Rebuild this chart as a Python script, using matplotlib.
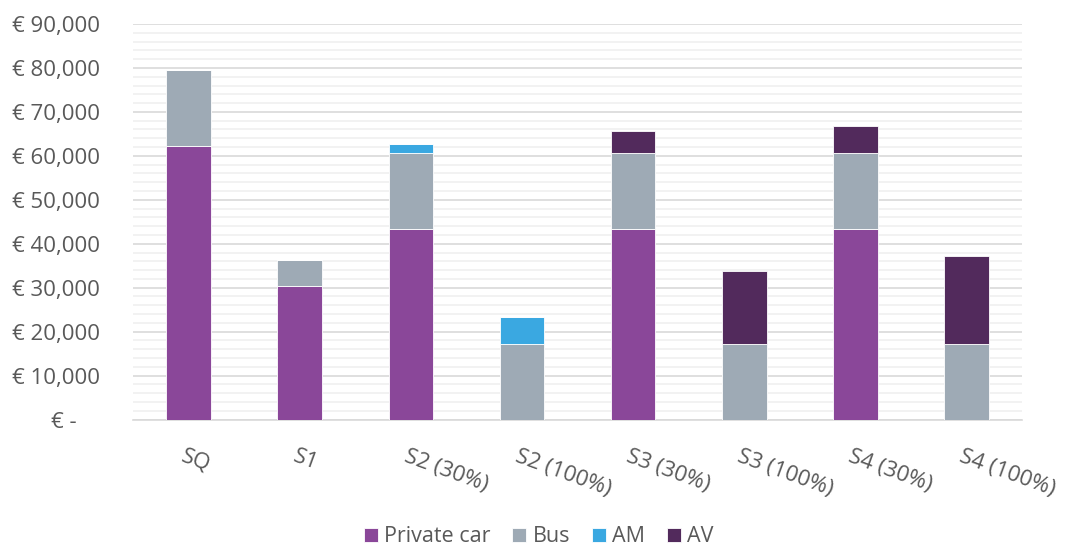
import numpy as np
import matplotlib.pyplot as plt
from matplotlib.ticker import FuncFormatter, MultipleLocator

plt.rcParams['font.family'] = ['Open Sans', 'DejaVu Sans']

scenarios = ["SQ", "S1", "S2 (30%)", "S2 (100%)", "S3 (30%)", "S3 (100%)", "S4 (30%)", "S4 (100%)"]
private_car = [62150, 30300, 43400, 0, 43400, 0, 43400, 0]
bus = [17350, 6050, 17350, 17200, 17350, 17200, 17350, 17200]
am = [0, 0, 1850, 6050, 0, 0, 0, 0]
av = [0, 0, 0, 0, 5000, 16650, 6000, 20000]

series = [("Private car", private_car, "#8a4799"),
          ("Bus", bus, "#9eaab5"),
          ("AM", am, "#3aa8e1"),
          ("AV", av, "#522a5c")]

fig = plt.figure(figsize=(10.67, 5.53), dpi=100)
ax = fig.add_axes([0.1246, 0.2414, 0.8334, 0.7152])

x = np.arange(len(scenarios))
bottom = np.zeros(len(scenarios))
for name, vals, col in series:
    vals = np.array(vals, dtype=float)
    ax.bar(x, vals, 0.4, bottom=bottom, color=col, label=name,
           edgecolor="white", linewidth=0.6, zorder=3)
    bottom += vals

ax.set_xlim(-0.5, len(scenarios) - 0.5)
ax.set_ylim(0, 90000)
ax.yaxis.set_major_locator(MultipleLocator(10000))
ax.yaxis.set_minor_locator(MultipleLocator(2000))
ax.grid(axis="y", which="major", color="#d9d9d9", linewidth=1.2, zorder=0)
ax.grid(axis="y", which="minor", color="#f0f0f0", linewidth=1.2, zorder=0)
ax.set_axisbelow(True)

def euro(v, pos):
    if v == 0:
        return "€ -    "
    return "€ {:,.0f}".format(v)

ax.yaxis.set_major_formatter(FuncFormatter(euro))
ax.tick_params(axis="y", which="both", length=0, labelsize=16, labelcolor="#595959", pad=24)
ax.tick_params(axis="x", length=0)
ax.set_xticks(x)
ax.set_xticklabels([])
for xi, lab in zip(x, scenarios):
    ax.annotate(lab, xy=(xi, 0), xycoords=("data", "axes fraction"),
                xytext=(-2, -19), textcoords="offset points",
                rotation=-20, rotation_mode="anchor", ha="left", va="top",
                fontsize=16, color="#595959")

for s in ["top", "right", "left"]:
    ax.spines[s].set_visible(False)
ax.spines["bottom"].set_color("#d9d9d9")
ax.spines["bottom"].set_linewidth(1.2)

fig.legend(loc="lower center", bbox_to_anchor=(0.505, -0.025), ncol=4, frameon=False,
           fontsize=15.5, labelcolor="#595959", handlelength=0.65, handleheight=0.65,
           handletextpad=0.3, columnspacing=1.0)

fig.savefig("out.png", dpi=100)
